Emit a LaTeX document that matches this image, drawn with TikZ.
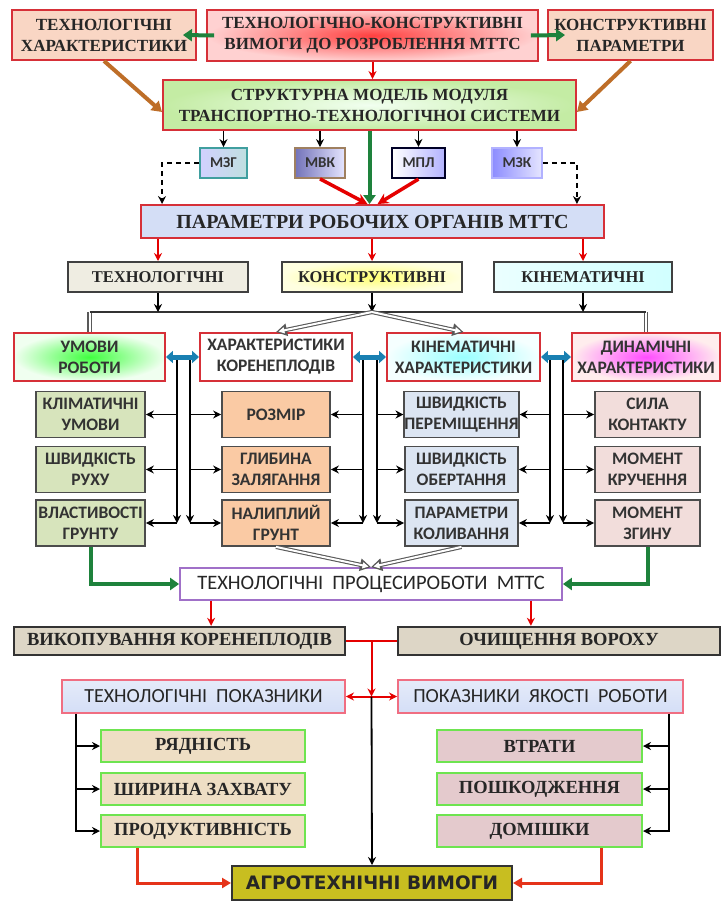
\documentclass[tikz,border=0pt]{standalone}
\usepackage{fontspec}
\setmainfont{Liberation Serif}
\newfontfamily\sansf{Carlito}
\newfontfamily\dejavu{DejaVu Sans}
\usetikzlibrary{arrows.meta,calc}
\definecolor{rahmen}{RGB}{214,48,56}
\definecolor{lachs}{RGB}{249,214,196}
\definecolor{hellgruen}{RGB}{196,236,164}
\definecolor{lavendel}{RGB}{212,222,246}
\definecolor{spalteA}{RGB}{215,228,188}
\definecolor{spalteB}{RGB}{250,202,164}
\definecolor{spalteC}{RGB}{220,229,242}
\definecolor{spalteD}{RGB}{242,221,219}
\definecolor{beige}{RGB}{221,214,198}
\definecolor{sand}{RGB}{238,222,196}
\definecolor{rosa}{RGB}{228,202,205}
\definecolor{giftgruen}{RGB}{110,228,80}
\definecolor{oliv}{RGB}{200,190,32}
\definecolor{lila}{RGB}{160,112,200}
\definecolor{pfeilgruen}{RGB}{30,130,60}
\definecolor{pfeilblau}{RGB}{30,150,210}
\definecolor{pfeilbraun}{RGB}{190,110,40}

\tikzset{
  wh/.style 2 args={minimum width=#1pt, minimum height=#2pt},
  txt/.style 2 args={font=\fontsize{#1}{#2}\selectfont\bfseries, text=black!85},
  stxt/.style 2 args={font=\sansf\fontsize{#1}{#2}\selectfont\bfseries, text=black!80},
  kasten/.style={draw=rahmen, line width=1.9pt, align=center, inner sep=1pt},
  modul/.style={line width=1.8pt, align=center, inner sep=0pt, stxt={15}{17}},
  kategorie/.style={draw=black!75, line width=2pt, align=center, inner sep=0pt, txt={16.5}{20}},
  teil/.style={draw=black!70, line width=1.8pt, align=center, inner sep=0pt, stxt={17.5}{21}},
  prozess/.style={draw=black!80, line width=2.4pt, fill=beige, align=center, inner sep=0pt, txt={18.5}{22}},
  zeiger/.style={draw=giftgruen, line width=2pt, align=center, inner sep=0pt, txt={18.5}{22}},
  pfeilschwarz/.style={draw=black, line width=1.8pt, -{Stealth[length=8pt,width=8pt]}},
  pfeilrot/.style={draw=red!90!black, line width=2pt, -{Stealth[length=8pt,width=8pt]}},
  pfeildick/.style={draw=red!90!black, line width=3.5pt, -{Stealth[length=11pt,width=11pt]}},
  gestrichelt/.style={draw=black, line width=1.4pt, dash pattern=on 5pt off 4pt, -{Stealth[length=8pt,width=8pt]}},
  gruenpfeil/.style={draw=pfeilgruen, line width=4pt, -{Triangle[length=9pt,width=12pt]}},
  braunpfeil/.style={draw=pfeilbraun, line width=4pt, -{Triangle[length=10pt,width=12pt]}},
  blaupfeil/.style={draw=pfeilblau!85!black, line width=5pt, {Triangle[length=7pt,width=12pt]}-{Triangle[length=7pt,width=12pt]}},
  hohlpfeil/.style={draw=white, line width=2pt, shorten >=2.5pt, -{Triangle[length=6pt,width=6pt]},
    preaction={draw=black!65, line width=4.2pt, shorten >=0pt, -{Triangle[length=11pt,width=12pt]}}},
  hohl/.style={draw=white, line width=2pt, preaction={draw=black!65, line width=4.2pt}},
}

\begin{document}
\begin{tikzpicture}[x=1pt, y=-1pt, >=Stealth]

  \useasboundingbox[fill=white] (0,0) rectangle (722,902);

  % oben
  \node[kasten, wh={184}{50}, fill=lachs, txt={17}{21}] (tchar) at (104,35) {ТЕХНОЛОГІЧНІ\\ХАРАКТЕРИСТИКИ};
  \node[kasten, wh={331}{51}, inner color=red!75, outer color=red!18, txt={17}{21}] (treq) at (372.5,35.5) {ТЕХНОЛОГІЧНО-КОНСТРУКТИВНІ\\ВИМОГИ ДО РОЗРОБЛЕННЯ МТТС};
  \node[kasten, wh={165}{50}, fill=lachs, txt={17}{21}] (cpar) at (630.5,35) {КОНСТРУКТИВНІ\\ПАРАМЕТРИ};
  \node[kasten, wh={413}{50}, inner color=yellow!8!green!6, outer color=hellgruen, txt={17}{21}] (smod) at (369.5,105) {СТРУКТУРНА МОДЕЛЬ МОДУЛЯ\\ТРАНСПОРТНО-ТЕХНОЛОГІЧНОІ СИСТЕМИ};

  % module
  \node[modul, wh={47}{30}, draw=teal!75, left color=blue!18, right color=teal!25] (mzg) at (223.5,163) {МЗГ};
  \node[modul, wh={50}{30}, draw=brown!50!gray, left color=blue!50!black!55, right color=blue!10] (mvk) at (320,163) {МВК};
  \node[modul, wh={53}{30}, draw=black!85!blue, line width=2.2pt, left color=white, right color=blue!30] (mpl) at (418.5,163) {МПЛ};
  \node[modul, wh={50}{30}, draw=blue!30, left color=blue!45, right color=blue!10] (mzk) at (517,163) {МЗК};

  \node[kasten, wh={463}{33}, fill=lavendel, txt={20}{24}] (par) at (372.5,221.5) {ПАРАМЕТРИ РОБОЧИХ ОРГАНІВ МТТС};

  % kategorien
  \node[kategorie, wh={180}{30}, fill={rgb,255:red,239;green,237;blue,226}] (ctech) at (158,277) {ТЕХНОЛОГІЧНІ};
  \node[kategorie, wh={180}{30}, inner color=yellow!55, outer color=yellow!12] (ccon) at (372,277) {КОНСТРУКТИВНІ};
  \node[kategorie, wh={178}{30}, left color=cyan!8, right color=cyan!18] (ckin) at (583,277) {КІНЕМАТИЧНІ};

  % gruppen
  \node[kasten, wh={151}{48}, inner color=green!75, outer color=green!6, stxt={17.5}{21}] (umov) at (89.5,357) {УМОВИ\\РОБОТИ};
  \node[kasten, wh={152}{48}, fill=white, stxt={17.5}{21}] (khar) at (276,357) {ХАРАКТЕРИСТИКИ\\КОРЕНЕПЛОДІВ};
  \node[kasten, wh={153}{48}, inner color=cyan!40, outer color=cyan!4, stxt={17.5}{21}] (kkin) at (463.5,357) {КІНЕМАТИЧНІ\\ХАРАКТЕРИСТИКИ};
  \node[kasten, wh={148}{48}, inner color=magenta!70, outer color=red!7, stxt={17.5}{21}] (dyn) at (646,357) {ДИНАМІЧНІ\\ХАРАКТЕРИСТИКИ};

  % teile
  \node[teil, wh={109}{46}, fill=spalteA] (klim) at (90.5,414.5) {КЛІМАТИЧНІ\\УМОВИ};
  \node[teil, wh={109}{46}, fill=spalteA] (shvr) at (90.5,469.5) {ШВИДКІСТЬ\\РУХУ};
  \node[teil, wh={109}{46}, fill=spalteA] (vlas) at (90.5,523) {ВЛАСТИВОСТІ\\ГРУНТУ};
  \node[teil, wh={108}{46}, fill=spalteB] (rozm) at (276,414.5) {РОЗМІР};
  \node[teil, wh={108}{46}, fill=spalteB] (glyb) at (276,469.5) {ГЛИБИНА\\ЗАЛЯГАННЯ};
  \node[teil, wh={108}{46}, fill=spalteB] (nalyp) at (276,523) {НАЛИПЛИЙ\\ГРУНТ};
  \node[teil, wh={113}{46}, fill=spalteC] (shvp) at (461.5,414.5) {ШВИДКІСТЬ\\ПЕРЕМІЩЕННЯ};
  \node[teil, wh={113}{46}, fill=spalteC] (shvo) at (461.5,469.5) {ШВИДКІСТЬ\\ОБЕРТАННЯ};
  \node[teil, wh={113}{46}, fill=spalteC] (park) at (461.5,523) {ПАРАМЕТРИ\\КОЛИВАННЯ};
  \node[teil, wh={105}{46}, fill=spalteD] (syla) at (647.5,414.5) {СИЛА\\КОНТАКТУ};
  \node[teil, wh={105}{46}, fill=spalteD] (krut) at (647.5,469.5) {МОМЕНТ\\КРУЧЕННЯ};
  \node[teil, wh={105}{46}, fill=spalteD] (zgyn) at (647.5,523) {МОМЕНТ\\ЗГИНУ};

  % prozesse
  \node[draw=lila, line width=1.8pt, fill=white, wh={382}{32}, inner sep=0pt, font=\sansf\fontsize{20.5}{24}\selectfont, text=black!85] (proc) at (371,584) {ТЕХНОЛОГІЧНІ~~ПРОЦЕСИРОБОТИ~~МТТС};
  \node[prozess, wh={331}{28}] (vyk) at (179.5,641) {ВИКОПУВАННЯ КОРЕНЕПЛОДІВ};
  \node[prozess, wh={322}{28}] (och) at (559,641) {ОЧИЩЕННЯ ВОРОХУ};

  \node[draw={rgb,255:red,240;green,110;blue,130}, line width=1.9pt, top color=lavendel!60, bottom color=lavendel, wh={283}{33}, inner sep=0pt, font=\sansf\fontsize{20}{24}\selectfont, text=black!85] (tpok) at (203.5,696.5) {ТЕХНОЛОГІЧНІ~~ПОКАЗНИКИ};
  \node[draw={rgb,255:red,240;green,110;blue,130}, line width=1.9pt, top color=lavendel!60, bottom color=lavendel, wh={285}{33}, inner sep=0pt, font=\sansf\fontsize{20}{24}\selectfont, text=black!85] (ypok) at (540.5,696.5) {ПОКАЗНИКИ~~ЯКОСТІ~~РОБОТИ};

  \node[zeiger, wh={204}{32}, fill=sand] (ryad) at (203,746) {РЯДНІСТЬ};
  \node[zeiger, wh={204}{32}, fill=sand] (shyr) at (203,789) {ШИРИНА ЗАХВАТУ};
  \node[zeiger, wh={204}{32}, fill=sand] (prod) at (203,831) {ПРОДУКТИВНІСТЬ};
  \node[zeiger, wh={205}{32}, fill=rosa] (vtr) at (539.5,746) {ВТРАТИ};
  \node[zeiger, wh={205}{32}, fill=rosa] (posh) at (539.5,789) {ПОШКОДЖЕННЯ};
  \node[zeiger, wh={205}{32}, fill=rosa] (dom) at (539.5,831) {ДОМІШКИ};

  \node[draw=black!80, line width=2pt, fill=oliv, wh={280}{34}, inner sep=0pt, font=\dejavu\fontsize{18.5}{22}\selectfont\bfseries, text=black!85] (agro) at (372,883) {АГРОТЕХНІЧНІ ВИМОГИ};

  % verbindungen oben
  \draw[gruenpfeil] ([xshift=8pt]treq.west) -- ([xshift=-14pt]tchar.east);
  \draw[gruenpfeil] ([xshift=-8pt]treq.east) -- ([xshift=18pt]cpar.west);
  \draw[pfeilrot] (treq.south) -- (treq.south |- smod.north);
  \draw[braunpfeil] (tchar.south) -- ([yshift=-7pt]smod.west);
  \draw[braunpfeil] (cpar.south) -- ([yshift=-7pt]smod.east);

  \foreach \m in {mzg,mvk,mpl,mzk}
    \draw[pfeilschwarz] (\m.north |- smod.south) -- (\m.north);
  \draw[gestrichelt] (mzg.west) -| (smod.west |- par.north);
  \draw[gestrichelt] (mzk.east) -| (smod.east |- par.north);
  \draw[pfeildick] (mvk.south) -- ([xshift=-5pt]par.north);
  \draw[pfeildick] (mpl.south) -- ([xshift=5pt]par.north);
  \draw[gruenpfeil] (smod.south) -- (smod.south |- par.north);

  \foreach \k in {ctech,ccon,ckin}
    \draw[pfeilrot] (\k.north |- par.south) -- (\k.north);

  % sammelschiene
  \coordinate (bmitte) at (372,312);
  \coordinate (blinks) at (umov.north |- bmitte);
  \coordinate (brechts) at (dyn.north |- bmitte);
  \draw[hohl] (blinks) -- (umov.north);
  \draw[hohl] (brechts) -- (dyn.north);
  \draw[black!80, line width=2pt] (blinks) -- (brechts);
  \foreach \k in {ctech,ccon,ckin}
    \draw[pfeilschwarz] (\k.south) -- (\k.south |- bmitte);
  \draw[hohlpfeil] (bmitte) -- (khar.north);
  \draw[hohlpfeil] (bmitte) -- (kkin.north);

  % verteiler
  \foreach \x/\a/\b/\c in {177/klim/shvr/vlas, 363/rozm/glyb/nalyp, 550/shvp/shvo/park}{
    \coordinate (oben) at (\x,357);
    \draw[pfeilschwarz] (oben) -- (oben |- \c.east);
    \foreach \n in {\a,\b,\c}
      \draw[pfeilschwarz] (oben |- \n.east) -- (\n.east);
  }
  \foreach \x/\a/\b/\c in {190/rozm/glyb/nalyp, 377/shvp/shvo/park, 563/syla/krut/zgyn}{
    \coordinate (oben) at (\x,357);
    \draw[pfeilschwarz] (oben) -- (oben |- \c.west);
    \foreach \n in {\a,\b,\c}
      \draw[pfeilschwarz] (oben |- \n.west) -- (\n.west);
  }
  \draw[blaupfeil] (umov.east) -- (khar.west);
  \draw[blaupfeil] (khar.east) -- (kkin.west);
  \draw[blaupfeil] (kkin.east) -- (dyn.west);

  % zu den prozessen
  \draw[hohlpfeil] (nalyp.south) -- (proc.north);
  \draw[hohlpfeil] (park.south) -- (proc.north);
  \draw[gruenpfeil] (vlas.south) |- (proc.west);
  \draw[gruenpfeil] (zgyn.south) |- (proc.east);

  \draw[pfeilrot] ([xshift=32pt]proc.south west) -- ([xshift=32pt]proc.south west |- vyk.north);
  \draw[pfeilrot] ([xshift=-32pt]proc.south east) -- ([xshift=-32pt]proc.south east |- och.north);

  \coordinate (mitte) at ($(vyk.east)!0.5!(och.west)$);
  \draw[red!90!black, line width=2pt] (vyk.east) -- (och.west);
  \draw[pfeilrot] (mitte) -- (mitte |- tpok.east);
  \draw[pfeilrot, {Stealth[length=8pt,width=8pt]}-{Stealth[length=8pt,width=8pt]}] (tpok.east) -- (ypok.west);
  \draw[pfeilschwarz] (mitte |- tpok.east) -- (agro.north);

  % kennzahlen
  \coordinate (llinie) at ([xshift=15pt]tpok.south west);
  \coordinate (rlinie) at ([xshift=-15pt]ypok.south east);
  \draw[pfeilschwarz, line width=2.2pt] (llinie) |- (prod.west);
  \draw[pfeilschwarz, line width=2.2pt] (rlinie) |- (dom.east);
  \foreach \n in {ryad,shyr}
    \draw[pfeilschwarz, line width=2.2pt] (llinie |- \n.west) -- (\n.west);
  \foreach \n in {vtr,posh}
    \draw[pfeilschwarz, line width=2.2pt] (rlinie |- \n.east) -- (\n.east);

  \draw[draw=red!60!brown, line width=3pt, -{Triangle[length=9pt,width=10pt]}] ([xshift=37pt]prod.south west) |- (agro.west);
  \draw[draw=red!60!brown, line width=3pt, -{Triangle[length=9pt,width=10pt]}] ([xshift=-42pt]dom.south east) |- (agro.east);

\end{tikzpicture}
\end{document}
